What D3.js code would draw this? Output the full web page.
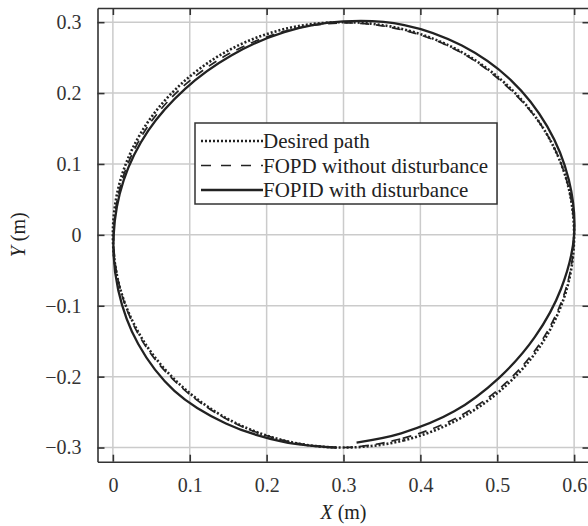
<!DOCTYPE html>
<html>
<head>
<meta charset="utf-8">
<script src="https://cdn.jsdelivr.net/npm/d3@7.8.5/dist/d3.min.js"></script>
<style>
    body { margin: 0; background: #fff; }
    svg { display: block; font-family: "Liberation Serif", "Times New Roman", serif; }
</style>
</head>
<body>
<div id="chart"></div>
<script>
// Tick values
const xTicks = [0, 0.1, 0.2, 0.3, 0.4, 0.5, 0.6];
const yTicks = [-0.3, -0.2, -0.1, 0, 0.1, 0.2, 0.3];

// Desired path (closed loop), [x, y] in metres
const desiredPath = [
    [0.300, -0.300], [0.378, -0.290], [0.450, -0.260], [0.512, -0.212],
    [0.560, -0.150], [0.590, -0.078], [0.600, 0.000], [0.590, 0.078],
    [0.560, 0.150], [0.512, 0.212], [0.450, 0.260], [0.378, 0.290],
    [0.300, 0.300], [0.222, 0.290], [0.150, 0.260], [0.088, 0.212],
    [0.040, 0.150], [0.010, 0.078], [0.000, 0.000], [0.010, -0.078],
    [0.040, -0.150], [0.088, -0.212], [0.150, -0.260], [0.222, -0.290]
];

// FOPD without disturbance (closed loop)
const fopdPath = [
    [0.300, -0.300], [0.377, -0.287], [0.449, -0.257], [0.510, -0.210],
    [0.558, -0.149], [0.589, -0.077], [0.600, 0.000], [0.590, 0.078],
    [0.560, 0.150], [0.511, 0.211], [0.450, 0.259], [0.377, 0.289],
    [0.300, 0.299], [0.223, 0.287], [0.152, 0.256], [0.091, 0.209],
    [0.043, 0.149], [0.012, 0.077], [0.001, 0.000], [0.010, -0.078],
    [0.039, -0.151], [0.087, -0.213], [0.150, -0.261], [0.222, -0.290]
];

// FOPID with disturbance (open, starts near the bottom)
const fopidPath = [
    [0.317, -0.293], [0.375, -0.280], [0.444, -0.249], [0.502, -0.202],
    [0.549, -0.144], [0.583, -0.076], [0.600, 0.000], [0.593, 0.078],
    [0.565, 0.153], [0.518, 0.218], [0.454, 0.267], [0.379, 0.296],
    [0.300, 0.301], [0.223, 0.286], [0.154, 0.253], [0.094, 0.206],
    [0.046, 0.147], [0.014, 0.077], [0.001, 0.000], [0.007, -0.078],
    [0.033, -0.154], [0.080, -0.220], [0.147, -0.266], [0.222, -0.292],
    [0.290, -0.300]
];

const legendLabels = ['Desired path', 'FOPD without disturbance', 'FOPID with disturbance'];

const width = 588;
const height = 526;
const plot = { left: 97.5, right: 589.5, top: 8, bottom: 461.7 };
const ink = '#222';

const svg = d3.select('#chart').append('svg')
    .attr('width', width)
    .attr('height', height);

const x = d3.scaleLinear().domain([-0.02, 0.62]).range([plot.left, plot.right]);
const y = d3.scaleLinear().domain([-0.32, 0.32]).range([plot.bottom, plot.top]);

const fmt = d => d === 0 ? '0' : d3.format('.1f')(d).replace('-', '\u2212');

// Grid
svg.append('g').selectAll('line.gx')
    .data(xTicks).enter().append('line')
    .attr('x1', d => x(d)).attr('x2', d => x(d))
    .attr('y1', plot.top).attr('y2', plot.bottom)
    .style('stroke', '#cbcbcb').style('stroke-width', 1.5);

svg.append('g').selectAll('line.gy')
    .data(yTicks).enter().append('line')
    .attr('x1', plot.left).attr('x2', plot.right)
    .attr('y1', d => y(d)).attr('y2', d => y(d))
    .style('stroke', '#cbcbcb').style('stroke-width', 1.5);

// Axes (ticks inside on all sides)
function styleAxis(g) {
    g.select('.domain').style('stroke', '#333').style('stroke-width', 1.6);
    g.selectAll('.tick line').style('stroke', '#333').style('stroke-width', 1.6);
    g.selectAll('.tick text').style('fill', '#333').style('font-size', '20px')
        .style('font-family', '"Liberation Serif", "Times New Roman", serif');
}

svg.append('g')
    .attr('transform', `translate(0,${plot.bottom})`)
    .call(d3.axisBottom(x).tickValues(xTicks).tickFormat(fmt).tickSizeInner(-7).tickSizeOuter(0).tickPadding(16))
    .call(styleAxis);

svg.append('g')
    .attr('transform', `translate(0,${plot.top})`)
    .call(d3.axisTop(x).tickValues(xTicks).tickFormat('').tickSizeInner(-7).tickSizeOuter(0))
    .call(styleAxis);

svg.append('g')
    .attr('transform', `translate(${plot.left},0)`)
    .call(d3.axisLeft(y).tickValues(yTicks).tickFormat(fmt).tickSizeInner(-7).tickSizeOuter(0).tickPadding(16))
    .call(styleAxis);

svg.append('g')
    .attr('transform', `translate(${plot.right},0)`)
    .call(d3.axisRight(y).tickValues(yTicks).tickFormat('').tickSizeInner(-7).tickSizeOuter(0))
    .call(styleAxis);

// Trajectories
const closedLine = d3.line().x(d => x(d[0])).y(d => y(d[1])).curve(d3.curveCatmullRomClosed);
const openLine = d3.line().x(d => x(d[0])).y(d => y(d[1])).curve(d3.curveCatmullRom);

const styles = [
    { dash: '2,2', width: 2.6 },
    { dash: '9,7', width: 1.7 },
    { dash: null, width: 2.3 }
];

svg.append('path')
    .attr('d', closedLine(desiredPath))
    .style('fill', 'none').style('stroke', ink)
    .style('stroke-width', styles[0].width).style('stroke-dasharray', styles[0].dash);

svg.append('path')
    .attr('d', closedLine(fopdPath))
    .style('fill', 'none').style('stroke', ink)
    .style('stroke-width', styles[1].width).style('stroke-dasharray', styles[1].dash);

svg.append('path')
    .attr('d', openLine(fopidPath))
    .style('fill', 'none').style('stroke', ink)
    .style('stroke-width', styles[2].width);

// Legend
const legend = svg.append('g');
legend.append('rect')
    .attr('x', 195).attr('y', 123).attr('width', 302).attr('height', 81)
    .style('fill', '#fff').style('stroke', '#333').style('stroke-width', 1.5);

const rowY = [141, 165.5, 190];
legendLabels.forEach((label, i) => {
    legend.append('line')
        .attr('x1', 201).attr('x2', 263)
        .attr('y1', rowY[i]).attr('y2', rowY[i])
        .style('stroke', ink)
        .style('stroke-width', styles[i].width)
        .style('stroke-dasharray', i === 1 ? '10,10' : styles[i].dash);
    legend.append('text')
        .attr('x', 263).attr('y', rowY[i]).attr('dy', '0.35em')
        .style('font-size', '21px').style('fill', '#222')
        .text(label);
});

// Axis labels
const xLabel = svg.append('text')
    .attr('x', (plot.left + plot.right) / 2).attr('y', 519)
    .attr('text-anchor', 'middle')
    .style('font-size', '20px').style('fill', '#222');
xLabel.append('tspan').style('font-style', 'italic').text('X');
xLabel.append('tspan').text(' (m)');

const yLabel = svg.append('text')
    .attr('transform', `translate(25,${(plot.top + plot.bottom) / 2}) rotate(-90)`)
    .attr('text-anchor', 'middle')
    .style('font-size', '20px').style('fill', '#222');
yLabel.append('tspan').style('font-style', 'italic').text('Y');
yLabel.append('tspan').text(' (m)');
</script>
</body>
</html>
